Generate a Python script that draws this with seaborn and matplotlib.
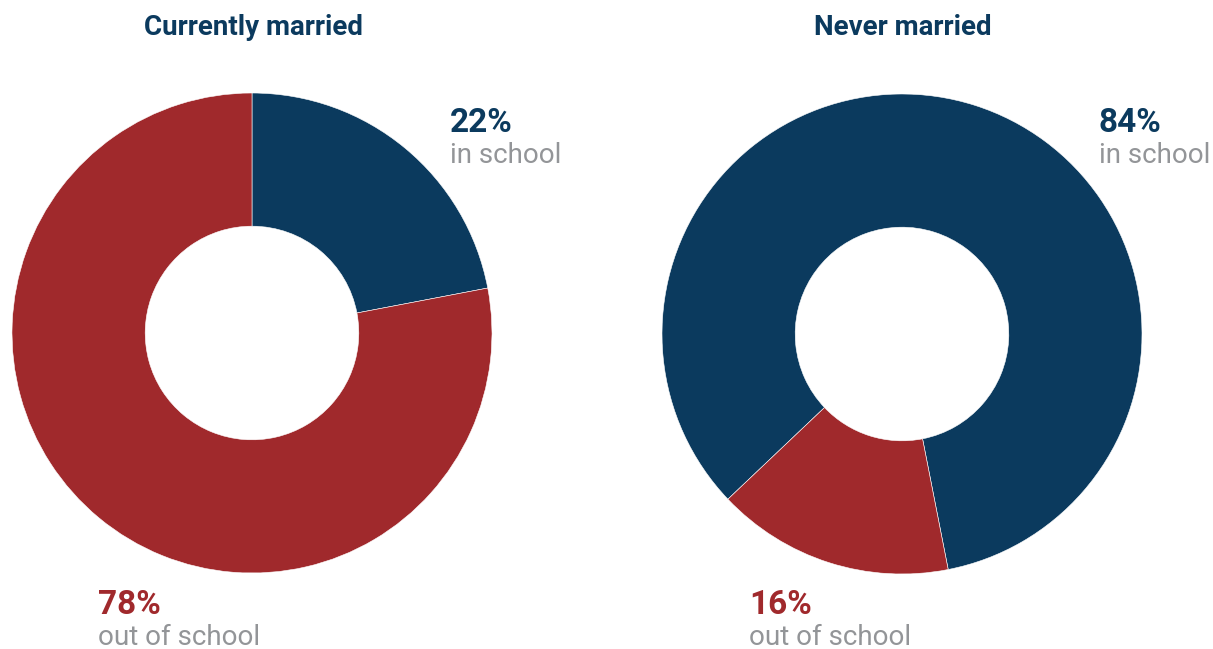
import matplotlib
matplotlib.use("Agg")
import matplotlib.pyplot as plt
import seaborn as sns

sns.set_theme(style="white")
plt.rcParams['font.family'] = ['Roboto', 'DejaVu Sans']

# School attendance shares by marital status
groups = ["Currently married", "Never married"]
categories = ["in school", "out of school"]
in_school = [22, 84]
out_of_school = [78, 16]

NAVY = "#0b3a5e"
RED = "#a0292c"
GRAY = "#939598"

W, H = 1213, 649
fig = plt.figure(figsize=(W / 100, H / 100), dpi=100)

def fx(px):
    return px / W

def fy(py):
    return 1 - py / H

R_PX = 240
centers = [(252, 333), (902, 334)]
start_angles = [90, 223.5]
label_in_pos = [(450, 132), (1099, 132)]
label_out_pos = [(98, 614), (749, 614)]

for i, group in enumerate(groups):
    cx, cy = centers[i]
    ax = fig.add_axes([fx(cx - R_PX), fy(cy + R_PX), 2 * R_PX / W, 2 * R_PX / H])
    ax.pie([in_school[i], out_of_school[i]], colors=[NAVY, RED],
           startangle=start_angles[i], counterclock=False, radius=1,
           wedgeprops=dict(width=0.555, edgecolor="white", linewidth=0.4))
    ax.set_xlim(-1, 1)
    ax.set_ylim(-1, 1)
    ax.set_aspect("equal")
    ax.axis("off")

    fig.text(fx(cx + 1), fy(35), group, ha="center", va="baseline",
             fontsize=20, fontweight="bold", color=NAVY)

    x, y = label_in_pos[i]
    fig.text(fx(x), fy(y), f"{in_school[i]}%", ha="left", va="baseline",
             fontsize=24, fontweight="bold", color=NAVY)
    fig.text(fx(x), fy(y + 31), categories[0], ha="left", va="baseline",
             fontsize=20, color=GRAY)

    x, y = label_out_pos[i]
    fig.text(fx(x), fy(y), f"{out_of_school[i]}%", ha="left", va="baseline",
             fontsize=24, fontweight="bold", color=RED)
    fig.text(fx(x), fy(y + 31), categories[1], ha="left", va="baseline",
             fontsize=20, color=GRAY)

fig.savefig("out.png", dpi=100, facecolor="white")
